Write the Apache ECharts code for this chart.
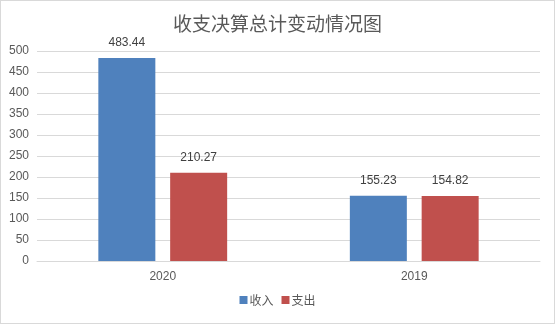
<!DOCTYPE html>
<html>
<head>
<meta charset="utf-8">
<script src="https://cdn.jsdelivr.net/npm/echarts@6/dist/echarts.min.js"></script>
<style>
  html, body { margin: 0; padding: 0; background: #fff; }
  #chart { width: 555px; height: 324px; box-sizing: border-box; border: 1px solid #d9d9d9; }
</style>
</head>
<body>
<div id="chart"></div>
<script>
const titleText = '收支决算总计变动情况图';
const categories = ['2020', '2019'];
const incomeName = '收入';
const expenseName = '支出';
const incomeValues = [483.44, 155.23];
const expenseValues = [210.27, 154.82];
const yTicks = { min: 0, max: 500, interval: 50 };

const font = "'Liberation Sans', 'Noto Sans CJK SC', sans-serif";
const chart = echarts.init(document.getElementById('chart'), null, { renderer: 'canvas' });

const labelStyle = {
  show: true,
  position: 'top',
  distance: 9,
  color: '#404040',
  fontSize: 12,
  fontFamily: font,
  formatter: p => p.value.toFixed(2)
};

chart.setOption({
  animation: false,
  textStyle: { fontFamily: font },
  title: {
    text: titleText,
    left: 'center',
    top: 8,
    textStyle: { fontSize: 19, fontWeight: 'normal', color: '#595959', fontFamily: "'Noto Sans CJK SC', sans-serif" }
  },
  legend: {
    bottom: 12,
    left: 'center',
    itemWidth: 8,
    itemHeight: 8,
    itemGap: 8,
    icon: 'rect',
    textStyle: { fontSize: 12, color: '#595959', fontFamily: "'Noto Sans CJK SC', sans-serif", padding: [0, 0, 0, -3] },
    data: [incomeName, expenseName]
  },
  grid: { left: 36, right: 14, top: 50, bottom: 62, containLabel: false },
  xAxis: {
    type: 'category',
    data: categories,
    axisTick: { show: false },
    axisLine: { show: true, lineStyle: { color: '#d9d9d9' } },
    axisLabel: { color: '#595959', fontSize: 12, margin: 10, fontFamily: font }
  },
  yAxis: {
    type: 'value',
    min: yTicks.min,
    max: yTicks.max,
    interval: yTicks.interval,
    axisLine: { show: false },
    axisTick: { show: false },
    splitLine: { lineStyle: { color: '#d9d9d9' } },
    axisLabel: { color: '#595959', fontSize: 12, margin: 8, fontFamily: font }
  },
  series: [
    {
      name: incomeName,
      type: 'bar',
      data: incomeValues,
      barWidth: 57,
      barGap: '26%',
      itemStyle: { color: '#4F81BD' },
      label: labelStyle
    },
    {
      name: expenseName,
      type: 'bar',
      data: expenseValues,
      barWidth: 57,
      itemStyle: { color: '#C0504D' },
      label: labelStyle
    }
  ]
});
</script>
</body>
</html>
